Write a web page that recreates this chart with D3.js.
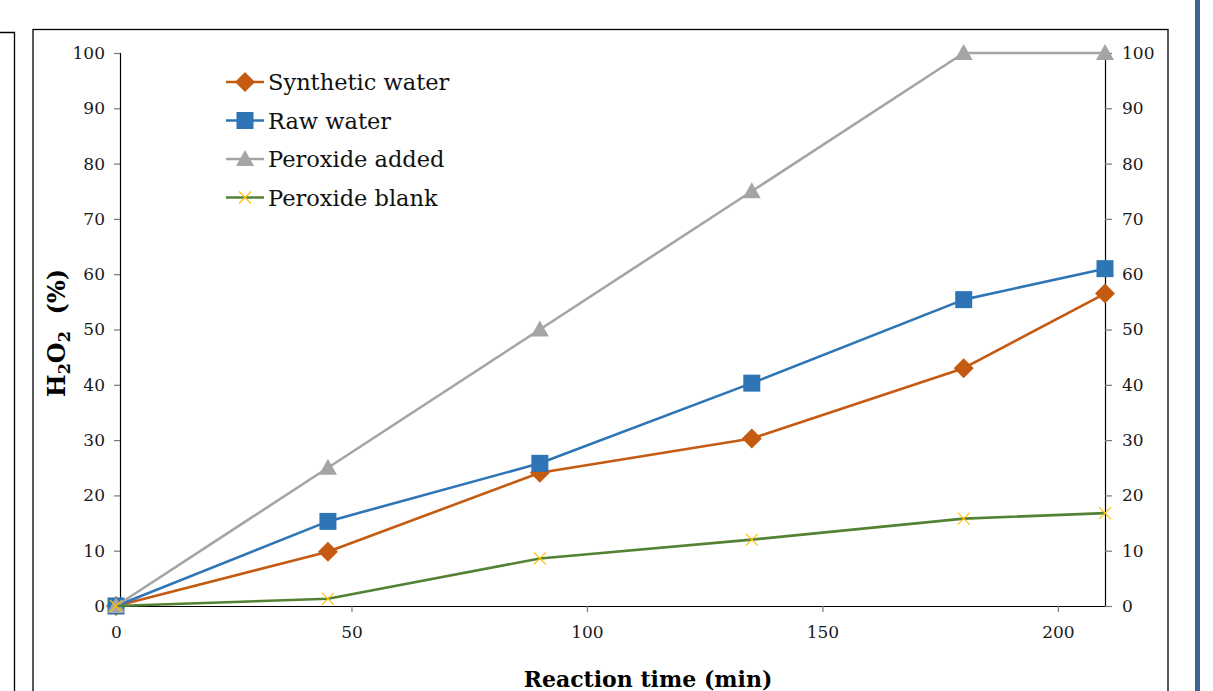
<!DOCTYPE html>
<html>
<head>
<meta charset="utf-8">
<script src="https://cdn.jsdelivr.net/npm/d3@7"></script>
<style>
  body { margin: 0; background: #fff; }
  svg { display: block; font-family: "DejaVu Serif", "Liberation Serif", serif; }
</style>
</head>
<body>
<div id="chart"></div>
<script>
const times = [0, 45, 90, 135, 180, 210];
const synthetic = [0, 9.8, 24.1, 30.3, 43.0, 56.5];
const raw = [0, 15.3, 25.8, 40.3, 55.4, 61.0];
const peroxideAdded = [0, 25, 50, 75, 100, 100];
const peroxideBlank = [0, 1.3, 8.6, 12.0, 15.8, 16.8];
const seriesNames = ["Synthetic water", "Raw water", "Peroxide added", "Peroxide blank"];
const xTicks = [0, 50, 100, 150, 200];
const yTicks = [0, 10, 20, 30, 40, 50, 60, 70, 80, 90, 100];

const width = 1213, height = 691;

const svg = d3.select("#chart").append("svg")
  .attr("width", width)
  .attr("height", height);

// neighbouring panel edge on the left and the blue page bar on the right
svg.append("path")
  .attr("d", "M0,32.5H14.5V691")
  .attr("fill", "none").attr("stroke", "#000").attr("stroke-width", 1.3);
svg.append("rect")
  .attr("x", 1195).attr("y", 0).attr("width", 5).attr("height", height)
  .attr("fill", "#3e6294");

// chart frame
svg.append("rect")
  .attr("x", 33).attr("y", 29.5).attr("width", 1135).attr("height", 680)
  .attr("fill", "#fff").attr("stroke", "#000").attr("stroke-width", 1.3);

const x = d3.scaleLinear().domain([0, 210]).range([116, 1105]);
const y = d3.scaleLinear().domain([0, 100]).range([606, 53]);

// left y axis
const yAxisL = svg.append("g")
  .attr("transform", `translate(${x(0) + 4},0)`)
  .call(d3.axisLeft(y).tickValues(yTicks).tickSize(6).tickPadding(9));
// right y axis
const yAxisR = svg.append("g")
  .attr("transform", `translate(${x(210)},0)`)
  .call(d3.axisRight(y).tickValues(yTicks).tickSize(7).tickPadding(10));
// x axis
const xAxis = svg.append("g")
  .attr("transform", `translate(0,${y(0)})`)
  .call(d3.axisBottom(x).tickValues(xTicks).tickSize(6).tickPadding(14));

[yAxisL, yAxisR, xAxis].forEach(a => {
  a.selectAll(".domain").attr("stroke", "#000").attr("stroke-width", 1.2);
  a.selectAll(".tick line").attr("stroke", "#777").attr("stroke-width", 1.2);
  a.selectAll("text").attr("font-size", 17).attr("fill", "#1a1a1a")
    .attr("font-family", "DejaVu Serif, serif");
});
xAxis.select(".domain").attr("d", `M${x(0) + 4},0.5H${x(210)}`);
xAxis.selectAll(".tick").filter(d => d === 0).select("line").remove();
yAxisL.selectAll(".tick").filter(d => d === 0).select("line").remove();

// axis titles
svg.append("text")
  .attr("x", 648).attr("y", 687)
  .attr("text-anchor", "middle")
  .attr("font-size", 22).attr("font-weight", "bold")
  .text("Reaction time (min)");

const yt = svg.append("text")
  .attr("transform", "translate(65,333) rotate(-90)")
  .attr("text-anchor", "middle")
  .attr("font-size", 24).attr("font-weight", "bold");
yt.append("tspan").text("H");
yt.append("tspan").attr("font-size", 16).attr("dy", 5).text("2");
yt.append("tspan").attr("dy", -5).text("O");
yt.append("tspan").attr("font-size", 16).attr("dy", 5).text("2");
yt.append("tspan").attr("dy", -5).text("\u00a0 (%)");

const series = [
  { name: seriesNames[0], values: synthetic, color: "#c55a11", marker: "diamond" },
  { name: seriesNames[1], values: raw, color: "#2e75b6", marker: "square" },
  { name: seriesNames[2], values: peroxideAdded, color: "#a5a5a5", marker: "triangle" },
  { name: seriesNames[3], values: peroxideBlank, color: "#548235", marker: "cross" }
];

const line = d3.line().x(d => x(d[0])).y(d => y(d[1]));

function drawMarker(g, type, color) {
  if (type === "diamond") {
    g.append("path").attr("d", "M0,-10L10,0L0,10L-10,0Z").attr("fill", color);
  } else if (type === "square") {
    g.append("rect").attr("x", -8.5).attr("y", -8.5).attr("width", 17).attr("height", 17)
      .attr("fill", color);
  } else if (type === "triangle") {
    g.append("path").attr("d", "M0,-9L9,7H-9Z").attr("fill", color);
  } else {
    g.append("path").attr("d", "M-6,-6L6,6M-6,6L6,-6")
      .attr("stroke", "#ffc000").attr("stroke-width", 1.2).attr("fill", "none");
  }
}

// draw lines then markers, with later series on top
series.forEach(s => {
  const pts = times.map((t, i) => [t, s.values[i]]);
  svg.append("path")
    .datum(pts)
    .attr("d", line)
    .attr("fill", "none")
    .attr("stroke", s.color)
    .attr("stroke-width", 2.6)
    .attr("stroke-linejoin", "round");
  pts.forEach(p => {
    const g = svg.append("g").attr("transform", `translate(${x(p[0])},${y(p[1])})`);
    drawMarker(g, s.marker, s.color);
  });
});

// legend
const legend = svg.append("g").attr("transform", "translate(226,82)");
series.forEach((s, i) => {
  const row = legend.append("g").attr("transform", `translate(0,${i * 38.5})`);
  row.append("line").attr("x1", 0).attr("x2", 38).attr("y1", 0).attr("y2", 0)
    .attr("stroke", s.color).attr("stroke-width", 2.6);
  const m = row.append("g").attr("transform", "translate(19,0)");
  drawMarker(m, s.marker, s.color);
  row.append("text").attr("x", 42).attr("y", 8)
    .attr("font-size", 22.5).attr("fill", "#111")
    .text(s.name);
});
</script>
</body>
</html>
